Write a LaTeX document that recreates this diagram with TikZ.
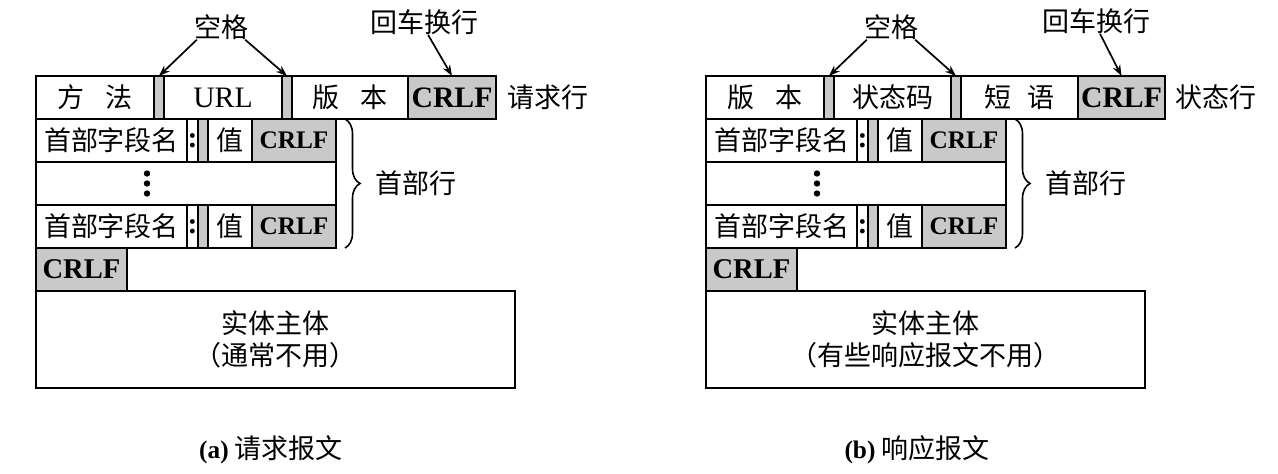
\documentclass[tikz,border=0pt]{standalone}
\usepackage{fontspec}
\setmainfont{Noto Sans CJK SC}
\newfontfamily\lat{Liberation Serif}[Scale=1.1]
\usepackage{tikz}
\usetikzlibrary{arrows.meta,positioning,decorations.pathreplacing}
\definecolor{cellgray}{HTML}{C9C9C9}
\newcommand{\bigfont}{\fontsize{27}{32}\selectfont}
\newcommand{\hdfont}{\fontsize{23}{28}\selectfont}

\begin{document}
\begin{tikzpicture}[
  x=1pt,y=-1pt,
  font=\bigfont,
  cell/.style={draw,line width=1.6pt,inner sep=0pt,outer sep=0pt,
               minimum height=43,anchor=north west},
  gap/.style={cell,fill=cellgray,minimum width=10},
  crlf/.style={cell,fill=cellgray,font=\bigfont\lat\bfseries},
  a/.style={-{Stealth[length=11pt,width=8pt]},line width=1.7pt},
  lbl/.style={inner sep=0pt}
]
\useasboundingbox (0,0) rectangle (1278,474);

% (a) request message
\node[cell,minimum width=118] (am) at (36,76) {方\hspace{0.8em}法};
\node[gap,right=0pt of am] (ag1) {};
\node[cell,minimum width=118,right=0pt of ag1] (aurl) {\lat URL};
\node[gap,right=0pt of aurl] (ag2) {};
\node[cell,minimum width=116,right=0pt of ag2] (aver) {版\hspace{0.8em}本};
\node[crlf,minimum width=88,right=0pt of aver] (acr) {CRLF};
\node[lbl,right=11pt of acr] (areq) {请求行};
\node[lbl] (asp) at (221,27) {空格};
\node[lbl] (aret) at (424,22) {回车换行};
\draw[a] ([xshift=3pt]asp.south west) -- (ag1.north);
\draw[a] ([xshift=-3pt]asp.south east) -- (ag2.north);
\draw[a] ([xshift=4pt]aret.south) -- (acr.north);

\node[cell,minimum width=151,below right=0pt and 0pt of am.south west] (an1) {首部字段名};
\node[cell,minimum width=11,right=0pt of an1] (ac1) {\lat\bfseries :};
\node[gap,right=0pt of ac1] (aq1) {};
\node[cell,minimum width=44,right=0pt of aq1] (av1) {值};
\node[crlf,minimum width=84,right=0pt of av1,font=\hdfont\lat\bfseries] (ah1) {CRLF};
\node[cell,minimum width=300,below right=0pt and 0pt of an1.south west] (adots) {};
\foreach \d in {-10,0,10}
  \fill ([xshift=-39pt,yshift=\d pt]adots.center) circle (3.2pt);
\node[cell,minimum width=151,below right=0pt and 0pt of adots.south west] (an2) {首部字段名};
\node[cell,minimum width=11,right=0pt of an2] (ac2) {\lat\bfseries :};
\node[gap,right=0pt of ac2] (aq2) {};
\node[cell,minimum width=44,right=0pt of aq2] (av2) {值};
\node[crlf,minimum width=84,right=0pt of av2,font=\hdfont\lat\bfseries] (ah2) {CRLF};
\draw[line width=1.6pt,decorate,decoration={brace,amplitude=15pt}]
  ([xshift=9pt]ah1.north east) -- ([xshift=9pt]ah2.south east);
\node[lbl,anchor=west] (ahd) at ([xshift=39pt]adots.east) {首部行};

\node[crlf,minimum width=91,below right=0pt and 0pt of an2.south west,
      font=\fontsize{26}{30}\selectfont\lat\bfseries] (aend) {CRLF};
\node[cell,minimum width=479,minimum height=97,align=center,
      below right=0pt and 0pt of aend.south west] (abody) {实体主体\\（通常不用）};
\node[lbl] (acap) at (271,450) {{\fontsize{23}{28}\selectfont\lat\bfseries (a)} 请求报文};

% (b) response message
\begin{scope}[xshift=670]
\node[cell,minimum width=118] (bver) at (36,76) {版\hspace{0.8em}本};
\node[gap,right=0pt of bver] (bg1) {};
\node[cell,minimum width=117,right=0pt of bg1] (bcode) {状态码};
\node[gap,right=0pt of bcode] (bg2) {};
\node[cell,minimum width=117,right=0pt of bg2] (bph) {短\hspace{0.6em}语};
\node[crlf,minimum width=87,right=0pt of bph] (bcr) {CRLF};
\node[lbl,right=10pt of bcr] (bstat) {状态行};
\node[lbl] (bsp) at (221,27) {空格};
\node[lbl] (bret) at (426,21) {回车换行};
\draw[a] ([xshift=3pt]bsp.south west) -- (bg1.north);
\draw[a] ([xshift=-3pt]bsp.south east) -- (bg2.north);
\draw[a] ([xshift=4pt]bret.south) -- (bcr.north);

\node[cell,minimum width=151,below right=0pt and 0pt of bver.south west] (bn1) {首部字段名};
\node[cell,minimum width=11,right=0pt of bn1] (bc1) {\lat\bfseries :};
\node[gap,right=0pt of bc1] (bq1) {};
\node[cell,minimum width=44,right=0pt of bq1] (bv1) {值};
\node[crlf,minimum width=84,right=0pt of bv1,font=\hdfont\lat\bfseries] (bh1) {CRLF};
\node[cell,minimum width=300,below right=0pt and 0pt of bn1.south west] (bdots) {};
\foreach \d in {-10,0,10}
  \fill ([xshift=-39pt,yshift=\d pt]bdots.center) circle (3.2pt);
\node[cell,minimum width=151,below right=0pt and 0pt of bdots.south west] (bn2) {首部字段名};
\node[cell,minimum width=11,right=0pt of bn2] (bc2) {\lat\bfseries :};
\node[gap,right=0pt of bc2] (bq2) {};
\node[cell,minimum width=44,right=0pt of bq2] (bv2) {值};
\node[crlf,minimum width=84,right=0pt of bv2,font=\hdfont\lat\bfseries] (bh2) {CRLF};
\draw[line width=1.6pt,decorate,decoration={brace,amplitude=15pt}]
  ([xshift=9pt]bh1.north east) -- ([xshift=9pt]bh2.south east);
\node[lbl,anchor=west] (bhd) at ([xshift=39pt]bdots.east) {首部行};

\node[crlf,minimum width=91,below right=0pt and 0pt of bn2.south west,
      font=\fontsize{26}{30}\selectfont\lat\bfseries] (bend) {CRLF};
\node[cell,minimum width=439,minimum height=97,align=center,
      below right=0pt and 0pt of bend.south west] (bbody) {实体主体\\（有些响应报文不用）};
\node[lbl] (bcap) at (247,450) {{\fontsize{23}{28}\selectfont\lat\bfseries (b)} 响应报文};
\end{scope}
\end{tikzpicture}
\end{document}
